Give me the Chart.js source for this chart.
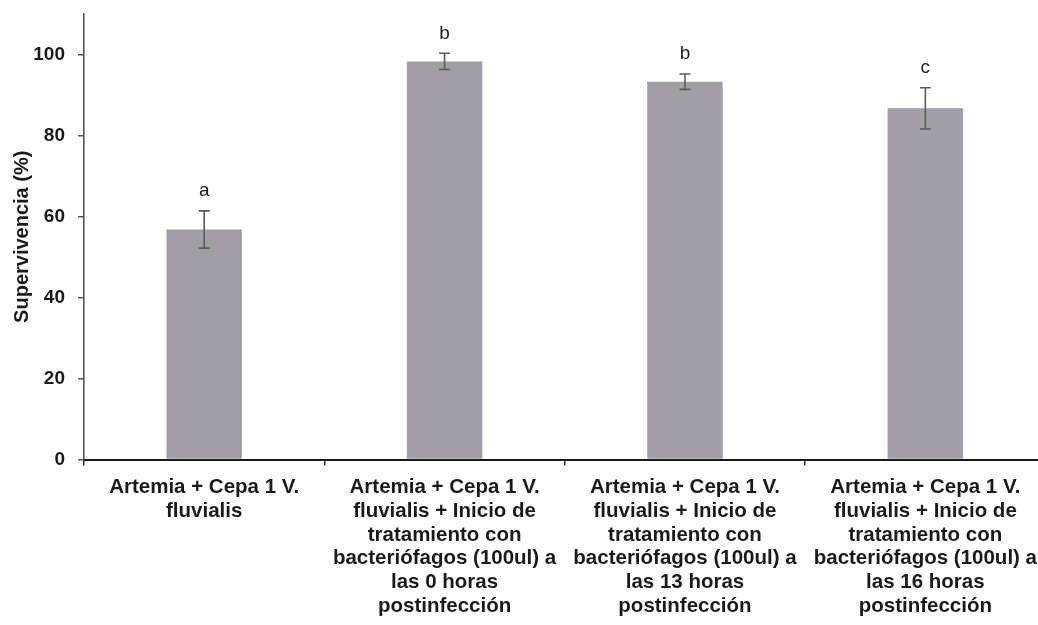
<!DOCTYPE html>
<html>
<head>
<meta charset="utf-8">
<script src="https://cdn.jsdelivr.net/npm/chart.js@4/dist/chart.umd.min.js"></script>
<style>
  html, body { margin: 0; padding: 0; background: #ffffff; overflow: hidden; }
  #wrap { width: 1047px; height: 625px; }
</style>
</head>
<body>
<div id="wrap"><canvas id="c" width="1047" height="625"></canvas></div>
<script>
// Treatment groups (multi-line axis labels)
const categories = [
  ['Artemia + Cepa 1 V.', 'fluvialis'],
  ['Artemia + Cepa 1 V.', 'fluvialis + Inicio de', 'tratamiento con', 'bacteriófagos (100ul) a', 'las 0 horas', 'postinfección'],
  ['Artemia + Cepa 1 V.', 'fluvialis + Inicio de', 'tratamiento con', 'bacteriófagos (100ul) a', 'las 13 horas', 'postinfección'],
  ['Artemia + Cepa 1 V.', 'fluvialis + Inicio de', 'tratamiento con', 'bacteriófagos (100ul) a', 'las 16 horas', 'postinfección']
];
// Mean survival (%) and its error (±)
const survival = [56.8, 98.3, 93.3, 86.7];
const survivalError = [4.6, 2.0, 1.9, 5.1];
// Significance letters above each bar
const groupLetters = ['a', 'b', 'b', 'c'];
// Y axis tick values
const yTicks = [0, 20, 40, 60, 80, 100];

const FONT = "'Liberation Sans', Arial, sans-serif";

// Draws the error whiskers and the significance letters
const errorBarsPlugin = {
  id: 'errorBars',
  afterDatasetsDraw(chart) {
    const ctx = chart.ctx;
    const meta = chart.getDatasetMeta(0);
    const y = chart.scales.y;
    ctx.save();
    meta.data.forEach((bar, i) => {
      const x = bar.x;
      const hi = y.getPixelForValue(survival[i] + survivalError[i]);
      const lo = y.getPixelForValue(survival[i] - survivalError[i]);
      ctx.strokeStyle = '#5b5a5f';
      ctx.lineWidth = 1.6;
      ctx.beginPath();
      ctx.moveTo(x, hi); ctx.lineTo(x, lo);
      ctx.moveTo(x - 5.5, hi); ctx.lineTo(x + 5.5, hi);
      ctx.moveTo(x - 5.5, lo); ctx.lineTo(x + 5.5, lo);
      ctx.stroke();
      ctx.fillStyle = '#1e1e1e';
      ctx.font = '19px ' + FONT;
      ctx.textAlign = 'center';
      ctx.textBaseline = 'middle';
      ctx.fillText(groupLetters[i], x, hi - 20);
    });
    ctx.restore();
  }
};

new Chart(document.getElementById('c'), {
  type: 'bar',
  data: {
    labels: categories,
    datasets: [{
      data: survival,
      backgroundColor: '#a19fa5',
      borderWidth: 0,
      categoryPercentage: 1,
      barPercentage: 0.314
    }]
  },
  options: {
    responsive: false,
    animation: false,
    layout: { padding: { top: 14, right: 0, bottom: 0, left: 0 } },
    plugins: { legend: { display: false }, tooltip: { enabled: false } },
    scales: {
      x: {
        grid: { offset: true, drawOnChartArea: false, drawTicks: true, tickLength: 6, color: '#333333', lineWidth: 1.5 },
        border: { display: true, color: '#1a1a1a', width: 2 },
        ticks: {
          color: '#1a1a1a',
          font: { family: FONT, size: 20.5, weight: 'bold', lineHeight: 1.16 },
          padding: 10,
          maxRotation: 0,
          autoSkip: false
        },
        afterFit(scale) { scale.height = 165.5; }
      },
      y: {
        min: 0,
        max: 110,
        afterBuildTicks(scale) { scale.ticks = yTicks.map(v => ({ value: v })); },
        grid: { drawOnChartArea: false, drawTicks: true, tickLength: 6, color: '#555555', lineWidth: 1.5 },
        border: { display: true, color: '#555555', width: 1.6 },
        ticks: {
          color: '#1a1a1a',
          font: { family: FONT, size: 19, weight: 'bold' },
          padding: 13
        },
        title: {
          display: true,
          text: 'Supervivencia (%)',
          color: '#1a1a1a',
          font: { family: FONT, size: 20, weight: 'bold', lineHeight: 1.2 },
          padding: { top: 10, bottom: 0 }
        },
        afterFit(scale) {
          scale.width = 84;
          scale.paddingTop = 0;
          scale.paddingBottom = 0;
        }
      }
    }
  },
  plugins: [errorBarsPlugin]
});
</script>
</body>
</html>
